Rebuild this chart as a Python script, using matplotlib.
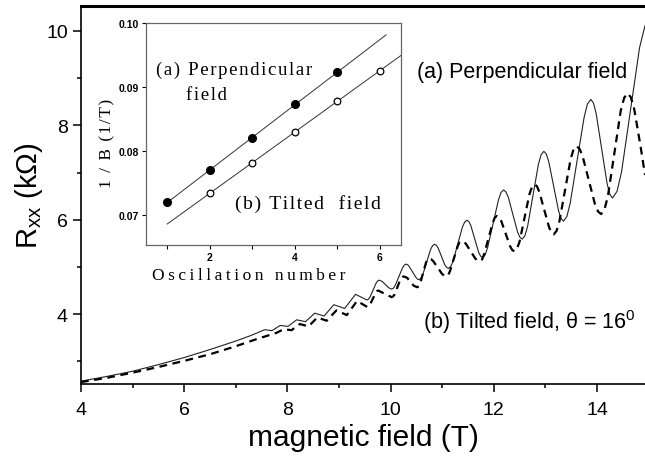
import matplotlib
matplotlib.use('Agg')
import matplotlib.pyplot as plt
from matplotlib.ticker import MultipleLocator, FixedLocator
import numpy as np

plt.rcParams['font.family'] = ['Liberation Sans', 'DejaVu Sans']
plt.rcParams['mathtext.fontset'] = 'custom'
plt.rcParams['mathtext.rm'] = 'Liberation Sans'
plt.rcParams['mathtext.it'] = 'Liberation Sans:italic'

# main curves: magnetic field (T) vs Rxx (kOhm)
b_perp = [4.0, 4.5, 5.0, 5.5, 6.0, 6.5, 7.0, 7.3, 7.56, 7.70, 7.86, 8.01, 8.18,
          8.35, 8.53, 8.71, 8.90, 9.11, 9.32, 9.43, 9.54, 9.60, 9.66, 9.72, 9.78,
          9.84, 9.90, 9.96, 10.02, 10.09, 10.16, 10.23, 10.30, 10.36, 10.425,
          10.49, 10.55, 10.625, 10.70, 10.775, 10.85, 10.92, 10.985, 11.05, 11.12,
          11.21, 11.30, 11.39, 11.48, 11.555, 11.63, 11.705, 11.78, 11.88, 11.985,
          12.09, 12.19, 12.28, 12.37, 12.46, 12.55, 12.655, 12.76, 12.865, 12.97,
          13.065, 13.16, 13.255, 13.35, 13.48, 13.615, 13.75, 13.88, 13.985, 14.09,
          14.195, 14.30, 14.475, 14.65, 14.825, 14.93]
r_perp = [2.58, 2.68, 2.79, 2.93, 3.08, 3.25, 3.43, 3.55, 3.67, 3.65, 3.76, 3.74, 3.88,
          3.84, 4.02, 3.96, 4.20, 4.12, 4.42, 4.36, 4.30, 4.36, 4.51, 4.66, 4.72,
          4.69, 4.625, 4.56, 4.53, 4.61, 4.795, 4.98, 5.06, 5.01, 4.895,
          4.78, 4.73, 4.84, 5.105, 5.37, 5.48, 5.405, 5.225, 5.045, 4.97,
          5.12, 5.48, 5.84, 5.99, 5.875, 5.595, 5.315, 5.20, 5.41, 5.915,
          6.42, 6.63, 6.48, 6.11, 5.74, 5.59, 5.86, 6.52, 7.18, 7.45,
          7.23, 6.71, 6.19, 5.97, 6.35, 7.26, 8.17, 8.55, 8.24, 7.505,
          6.77, 6.46, 7.01, 8.33, 9.65, 10.11]
# extra readings close to the maxima and minima
b_perp_near = [9.57, 9.75, 10.055, 10.265, 10.331, 10.519, 10.5875, 10.8125,
               10.884, 11.086, 11.165, 11.435, 11.5175, 11.7425, 11.831, 12.139,
               12.235, 12.505, 12.6025, 12.9175, 13.0175, 13.3025, 13.416, 13.814,
               13.9325, 14.2475, 14.3875]
r_perp_near = [4.316, 4.704, 4.55, 5.04, 5.047, 4.743, 4.759, 5.451,
               5.461, 4.989, 5.009, 5.951, 5.96, 5.23, 5.254, 6.576,
               6.59, 5.63, 5.661, 7.379, 7.394, 6.026, 6.068, 8.452,
               8.471, 6.539, 6.602]

b_tilt = [4.0, 4.5, 5.0, 5.5, 6.0, 6.5, 7.0, 7.4, 7.78, 7.93, 8.08, 8.24, 8.41,
          8.58, 8.76, 8.95, 9.15, 9.35, 9.45, 9.55, 9.60, 9.655, 9.71, 9.76, 9.89,
          10.02, 10.08, 10.135, 10.19, 10.25, 10.32, 10.385, 10.45, 10.52, 10.575,
          10.63, 10.685, 10.74, 10.825, 10.91, 10.995, 11.08, 11.15, 11.225, 11.30,
          11.37, 11.46, 11.55, 11.64, 11.73, 11.81, 11.895, 11.98, 12.06, 12.145,
          12.23, 12.315, 12.40, 12.50, 12.595, 12.69, 12.79, 12.88, 12.975, 13.07,
          13.16, 13.27, 13.38, 13.49, 13.60, 13.72, 13.84, 13.96, 14.08, 14.21,
          14.335, 14.46, 14.59, 14.72, 14.845, 14.93]
r_tilt = [2.56, 2.65, 2.76, 2.88, 3.01, 3.15, 3.32, 3.47, 3.60, 3.68, 3.66, 3.79, 3.74,
          3.93, 3.86, 4.08, 3.98, 4.28, 4.215, 4.15, 4.20, 4.325, 4.45, 4.50, 4.43,
          4.36, 4.42, 4.58, 4.74, 4.80, 4.77, 4.685, 4.60, 4.57, 4.66,
          4.875, 5.09, 5.18, 5.125, 4.99, 4.855, 4.80, 4.91, 5.175, 5.44,
          5.55, 5.49, 5.335, 5.18, 5.12, 5.26, 5.60, 5.94, 6.08, 5.97,
          5.705, 5.44, 5.33, 5.54, 6.04, 6.54, 6.75, 6.595, 6.22, 5.845,
          5.69, 5.96, 6.625, 7.29, 7.56, 7.35, 6.84, 6.33, 6.12, 6.49,
          7.40, 8.31, 8.68, 8.35, 7.55, 6.95]
b_tilt_near = [9.576, 9.734, 10.049, 10.221, 10.5475, 10.7125, 10.7825, 11.0375,
               11.116, 11.334, 11.415, 11.685, 11.771, 12.019, 12.1025, 12.3575,
               12.449, 12.741, 12.836, 13.114, 13.215, 13.545, 13.66, 14.02,
               14.144, 14.526, 14.654]
r_tilt_near = [4.163, 4.487, 4.377, 4.783, 4.593, 5.157, 5.166, 4.814,
               4.829, 5.521, 5.534, 5.136, 5.156, 6.044, 6.052, 5.358,
               5.384, 6.696, 6.71, 5.73, 5.761, 7.489, 7.505, 6.175,
               6.217, 8.583, 8.60]

# inset: 1/B of the maxima vs oscillation number
n_perp = [1, 2, 3, 4, 5]
inv_perp = [0.0720, 0.0770, 0.0820, 0.0873, 0.0923]
n_tilt = [2, 3, 4, 5, 6]
inv_tilt = [0.0734, 0.0781, 0.0830, 0.0878, 0.0925]
fit_range_perp = [1.0, 6.15]
fit_range_tilt = [1.0, 6.5]


def merged(x, y, x2, y2):
    xx = np.array(x + x2)
    yy = np.array(y + y2)
    order = np.argsort(xx)
    return xx[order], yy[order]


def spaced(s, sp='\u200a'):
    return sp.join(s)


fig = plt.figure(figsize=(6.45, 4.64), dpi=100)
ax = fig.add_axes([0.1256, 0.1703, 0.8744, 0.8147])

bx, ry = merged(b_perp, r_perp, b_perp_near, r_perp_near)
ax.plot(bx, ry, color='#222222', lw=0.8)
bx, ry = merged(b_tilt, r_tilt, b_tilt_near, r_tilt_near)
ax.plot(bx, ry, color='black', lw=1.6, dashes=(3.5, 2.5))

ax.set_xlim(4, 14.93)
ax.set_ylim(2.52, 10.53)
ax.xaxis.set_major_locator(MultipleLocator(2))
ax.xaxis.set_minor_locator(MultipleLocator(1))
ax.yaxis.set_major_locator(MultipleLocator(2))
ax.yaxis.set_minor_locator(MultipleLocator(1))
ax.tick_params(which='major', direction='out', length=6, width=1.1, labelsize=14)
ax.tick_params(axis='x', which='major', pad=6)
ax.tick_params(which='minor', direction='out', length=3, width=1.1)
ax.spines['right'].set_visible(False)
ax.spines['top'].set_linewidth(2.2)
ax.spines['left'].set_linewidth(1.2)
ax.spines['bottom'].set_linewidth(1.2)

ax.set_xlabel('magnetic field (T)', fontsize=21.5, labelpad=4)
ax.set_ylabel(r'R$_{\rm xx}$ (kΩ)', fontsize=21, labelpad=1)

ax.text(10.52, 9.15, '(a) Perpendicular field', fontsize=15.5, va='center', ha='left')
ax.text(10.62, 3.85, '(b) Tilted field, θ = 16$^0$', fontsize=15.5, va='center', ha='left')

# inset
ins = fig.add_axes([0.2264, 0.4698, 0.3953, 0.4784])
p1 = np.polyfit(n_perp, inv_perp, 1)
p2 = np.polyfit(n_tilt, inv_tilt, 1)
ins.plot(fit_range_perp, np.polyval(p1, fit_range_perp), color='#333333', lw=0.7)
ins.plot(fit_range_tilt, np.polyval(p2, fit_range_tilt), color='#333333', lw=0.7)
ins.plot(n_perp, inv_perp, 'o', color='black', ms=5.5)
ins.plot(n_tilt, inv_tilt, 'o', mfc='white', mec='black', mew=0.9, ms=4.8)
ins.set_xlim(0.5, 6.5)
ins.set_ylim(0.0653, 0.100)
ins.xaxis.set_major_locator(FixedLocator([2, 4, 6]))
ins.xaxis.set_minor_locator(FixedLocator([1, 3, 5]))
ins.yaxis.set_major_locator(FixedLocator([0.07, 0.08, 0.09, 0.10]))
ins.set_yticklabels(['0.07', '0.08', '0.09', '0.10'])
ins.tick_params(which='major', direction='out', length=3, width=0.8, labelsize=7.5, pad=2)
ins.tick_params(which='minor', direction='out', length=3, width=0.8)
for lbl in ins.get_xticklabels() + ins.get_yticklabels():
    lbl.set_fontweight('bold')
for s in ins.spines.values():
    s.set_color('#666666')
    s.set_linewidth(0.9)

serif = ['Liberation Serif', 'DejaVu Serif']
ins.set_xlabel(spaced('Oscillation number', '\u2009'), family=serif, fontsize=12.5)
ins.xaxis.set_label_coords(0.404, -0.10)
ins.set_ylabel(spaced('1 / B (1/T)'), family=serif, fontsize=12.5)
ins.yaxis.set_label_coords(-0.12, 0.46)
ins.text(0.74, 0.0928, spaced('(a) Perpendicular'), family=serif, fontsize=13.5, va='center')
ins.text(1.44, 0.0889, spaced('field'), family=serif, fontsize=13.5, va='center')
ins.text(2.59, 0.0718, spaced('(b) Tilted  field'), family=serif, fontsize=14, va='center')

fig.savefig('out.png', dpi=100)
